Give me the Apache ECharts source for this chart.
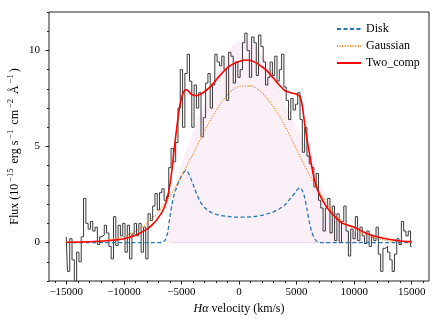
<!DOCTYPE html>
<html>
<head>
<meta charset="utf-8">
<script src="https://cdn.jsdelivr.net/npm/echarts@6/dist/echarts.min.js"></script>
<style>
  html, body { margin: 0; padding: 0; background: #fff; }
  #main { width: 442px; height: 325px; }
</style>
</head>
<body>
<div id="main"></div>
<script>
// observed spectrum, steps of 200 km/s  [velocity, flux]
var fluxData = [
  [-15000,0.3],[-14800,-1.5],[-14600,0.2],[-14400,-0.9],[-14200,-2.1],[-14000,-0.5],[-13800,-1.0],[-13600,0.3],
  [-13400,2.3],[-13200,1.0],[-13000,0.7],[-12800,1.1],[-12600,0.6],[-12400,0.8],[-12200,-0.1],[-12000,0.3],
  [-11800,0.4],[-11600,0.9],[-11400,0.5],[-11200,-0.2],[-11000,-0.85],[-10800,1.35],[-10600,-0.15],[-10400,0.9],
  [-10200,0.35],[-10000,1.0],[-9800,-0.5],[-9600,0.9],[-9400,-0.85],[-9200,0.45],[-9000,1.0],[-8800,0.35],
  [-8600,1.0],[-8400,-0.5],[-8200,0.8],[-8000,-0.85],[-7800,1.5],[-7600,1.15],[-7400,1.9],[-7200,2.55],
  [-7000,1.7],[-6800,2.6],[-6600,2.8],[-6400,2.2],[-6200,2.4],[-6000,3.9],[-5800,4.9],[-5600,4.2],
  [-5400,5.2],[-5200,7.0],[-5000,9.0],[-4800,6.0],[-4600,8.8],[-4400,9.8],[-4200,8.4],[-4000,6.0],
  [-3800,8.2],[-3600,7.0],[-3400,7.8],[-3200,5.5],[-3000,6.5],[-2800,8.3],[-2600,8.8],[-2400,7.0],
  [-2200,8.2],[-2000,9.8],[-1800,9.4],[-1600,9.2],[-1400,9.7],[-1200,9.0],[-1000,7.4],[-800,9.9],
  [-600,9.7],[-400,8.3],[-200,9.4],[0,8.6],[200,9.0],[400,10.4],[600,10.9],[800,10.0],
  [1000,8.6],[1200,10.7],[1400,10.4],[1600,8.7],[1800,10.8],[2000,10.2],[2200,9.4],[2400,8.2],
  [2600,8.6],[2800,9.4],[3000,8.7],[3200,9.7],[3400,8.4],[3600,9.0],[3800,9.8],[4000,8.1],
  [4200,7.4],[4400,6.4],[4600,7.5],[4800,6.9],[5000,7.2],[5200,7.8],[5400,6.4],[5600,4.7],
  [5800,6.0],[6000,4.5],[6200,4.1],[6400,3.9],[6600,2.9],[6800,3.6],[7000,2.2],[7200,1.8],
  [7400,0.6],[7600,1.8],[7800,2.3],[8000,0.5],[8200,1.9],[8400,0.1],[8600,1.5],[8800,0.0],
  [9000,1.1],[9200,1.9],[9400,0.6],[9600,-0.7],[9800,0.7],[10000,0.2],[10200,1.35],[10400,0.1],
  [10600,0.8],[10800,0.35],[11000,-0.05],[11200,0.6],[11400,-0.2],[11600,0.3],[11800,0.1],[12000,0.8],
  [12200,-0.6],[12400,-1.5],[12600,-0.3],[12800,-0.2],[13000,-0.5],[13200,-0.9],[13400,-1.5],[13600,-0.6],
  [13800,0.2],[14000,-0.1],[14200,1.1],[14400,0.6],[14600,0.35],[14800,0.6],[15000,-0.2]
];

var diskData = [
  [-15000,0],[-7000,0],[-6600,0.02],[-6400,0.15],[-6200,0.5],[-6000,1.35],[-5800,2.05],[-5600,2.55],
  [-5400,2.9],[-5200,3.2],[-5000,3.45],[-4800,3.65],[-4600,3.75],[-4400,3.62],[-4200,3.35],[-4000,3.05],
  [-3800,2.72],[-3600,2.42],[-3400,2.17],[-3200,1.97],[-3000,1.82],[-2500,1.6],[-2000,1.47],[-1500,1.4],
  [-1000,1.36],[-500,1.33],[0,1.32],[500,1.32],[1000,1.34],[1500,1.37],[2000,1.42],[2500,1.5],
  [3000,1.6],[3500,1.75],[4000,1.97],[4400,2.25],[4800,2.55],[5100,2.78],[5300,2.85],[5500,2.7],
  [5700,2.35],[5900,1.75],[6100,1.1],[6300,0.6],[6500,0.28],[6700,0.1],[6900,0.03],[7200,0],[15000,0]
];

var gaussData = [
  [-15000,0.01],[-14000,0.02],[-13000,0.04],[-12000,0.09],[-11000,0.18],[-10000,0.34],[-9000,0.6],[-8000,1.0],
  [-7000,1.6],[-6000,2.42],[-5000,3.45],[-4000,4.6],[-3000,5.8],[-2000,6.85],[-1000,7.7],[0,8.12],
  [1000,8.15],[2000,7.8],[3000,7.05],[4000,6.05],[5000,4.85],[6000,3.65],[7000,2.6],[8000,1.75],
  [9000,1.1],[10000,0.67],[11000,0.38],[12000,0.2],[13000,0.1],[14000,0.05],[15000,0.02]
];

var twoCompData = [
  [-15000,0.02],[-13000,0.04],[-12000,0.07],[-11000,0.12],[-10000,0.2],[-9000,0.38],[-8000,0.7],[-7500,0.95],
  [-7000,1.3],[-6500,1.8],[-6200,2.4],[-6000,3.0],[-5800,3.9],[-5600,5.0],[-5400,6.0],[-5200,6.9],
  [-5000,7.5],[-4800,7.85],[-4600,7.95],[-4400,7.9],[-4200,7.75],[-4000,7.68],[-3700,7.65],[-3400,7.7],
  [-3000,7.85],[-2500,8.1],[-2000,8.45],[-1500,8.8],[-1000,9.1],[-500,9.3],[0,9.42],[500,9.5],
  [1000,9.48],[1500,9.35],[2000,9.15],[2500,8.9],[3000,8.55],[3500,8.2],[4000,7.9],[4500,7.8],
  [5000,7.72],[5300,7.6],[5500,7.1],[5700,6.2],[5900,5.4],[6100,4.7],[6300,4.0],[6500,3.4],
  [6700,2.95],[7000,2.5],[7500,1.95],[8000,1.55],[8500,1.25],[9000,1.0],[10000,0.8],[11000,0.5],
  [12000,0.3],[13000,0.17],[14000,0.08],[15000,0.05]
];

// light shaded region
var shadeData = [
  [-6400,0],[-6200,0.6],[-6000,1.5],[-5600,2.8],[-5000,4.1],[-4000,5.7],[-3000,7.2],[-2000,8.7],
  [-1000,9.9],[0,10.5],[700,10.5],[1500,10.1],[2700,9.2],[3500,8.0],[4200,6.9],[5300,5.7],
  [6200,4.7],[6800,3.6],[7400,2.6],[8000,1.9],[9000,1.1],[10000,0.6],[11000,0.25],[12000,0]
];
var shadeBase = [[-6000,0],[10500,0]];

var xTicks = [-15000, -10000, -5000, 0, 5000, 10000, 15000];
var xMinor = [-16000,-14000,-13000,-12000,-11000,-9000,-8000,-7000,-6000,-4000,-3000,-2000,-1000,
  1000,2000,3000,4000,6000,7000,8000,9000,11000,12000,13000,14000,16000];
var yTicks = [0, 5, 10];
var yMinor = [-2,-1,1,2,3,4,6,7,8,9,11,12];

var serif = '"Liberation Serif", "DejaVu Serif", serif';

var myChart = echarts.init(document.getElementById('main'));
var option = {
    backgroundColor: '#fff',
    animation: false,
    textStyle: { fontFamily: serif },
    grid: {
      left: 49, right: 13, top: 12, bottom: 44,
      outerBoundsMode: 'none',
      show: true,
      borderColor: '#222',
      borderWidth: 1,
      backgroundColor: 'transparent'
    },
    legend: {
      orient: 'vertical',
      left: 331,
      top: 18,
      itemWidth: 24,
      itemHeight: 10,
      itemGap: 5,
      itemStyle: { opacity: 0 },
      textStyle: { fontFamily: serif, fontSize: 12, color: '#000' },
      data: ['Disk', 'Gaussian', 'Two_comp']
    },
    xAxis: [{
      type: 'value',
      min: -16500,
      max: 16500,
      name: '{it|Hα} velocity (km/s)',
      nameLocation: 'middle',
      nameGap: 16,
      nameTextStyle: {
        fontFamily: serif, fontSize: 12, color: '#000',
        rich: { it: { fontFamily: serif, fontSize: 12, fontStyle: 'italic', color: '#000' } }
      },
      axisLine: { show: false, onZero: false },
      axisTick: { show: true, customValues: xTicks, length: 3.5, lineStyle: { color: '#222' } },
      axisLabel: {
        customValues: xTicks, fontFamily: serif, fontSize: 11, color: '#000', margin: 6,
        formatter: function (v) { return String(v).replace('-', '\u2212'); }
      },
      splitLine: { show: false }
    }, {
      type: 'value',
      min: -16500,
      max: 16500,
      position: 'bottom',
      axisLine: { show: false, onZero: false },
      axisTick: { show: true, customValues: xMinor, length: 2, lineStyle: { color: '#222' } },
      axisLabel: { show: false },
      splitLine: { show: false }
    }],
    yAxis: [{
      type: 'value',
      min: -2,
      max: 12,
      name: 'Flux (10{sup|\u221215} erg s{sup|\u22121} cm{sup|\u22122} Å{sup|\u22121})',
      nameLocation: 'middle',
      nameRotate: 90,
      nameGap: 25,
      nameMoveOverlap: false,
      nameTextStyle: {
        fontFamily: serif, fontSize: 12, color: '#000', lineHeight: 18, verticalAlign: 'bottom',
        rich: {
          sup: { fontFamily: serif, fontSize: 8.5, color: '#000', verticalAlign: 'top', padding: [0, 2, 0, 2] }
        }
      },
      axisLine: { show: false, onZero: false },
      axisTick: { show: true, customValues: yTicks, length: 3.5, lineStyle: { color: '#222' } },
      axisLabel: { customValues: yTicks, fontFamily: serif, fontSize: 11, color: '#000', margin: 9 },
      splitLine: { show: false }
    }, {
      type: 'value',
      min: -2,
      max: 12,
      position: 'left',
      axisLine: { show: false, onZero: false },
      axisTick: { show: true, customValues: yMinor, length: 2, lineStyle: { color: '#222' } },
      axisLabel: { show: false },
      splitLine: { show: false }
    }],
    series: [
      {
        name: 'shade',
        type: 'line',
        data: shadeData,
        smooth: 0.3,
        symbol: 'none',
        silent: true,
        lineStyle: { width: 0 },
        areaStyle: { color: 'rgba(236,160,212,0.22)' },
        z: 1
      },
      {
        name: 'shadeBase',
        type: 'line',
        data: shadeBase,
        symbol: 'none',
        silent: true,
        lineStyle: { width: 1, color: 'rgba(236,160,212,0.45)' },
        z: 1
      },
      {
        name: 'data',
        type: 'line',
        data: fluxData,
        step: 'middle',
        symbol: 'none',
        lineStyle: { width: 1, color: '#3a3a3a' },
        z: 2
      },
      {
        name: 'Disk',
        type: 'line',
        data: diskData,
        smooth: 0.3,
        symbol: 'none',
        itemStyle: { color: '#1f77b4' },
        lineStyle: { width: 1.3, color: '#1f77b4', type: [4, 2.5] },
        z: 3
      },
      {
        name: 'Gaussian',
        type: 'line',
        data: gaussData,
        smooth: 0.3,
        symbol: 'none',
        itemStyle: { color: '#ff7f0e' },
        lineStyle: { width: 1.3, color: '#ff7f0e', type: [1, 1.6] },
        z: 4
      },
      {
        name: 'Two_comp',
        type: 'line',
        data: twoCompData,
        smooth: 0.3,
        symbol: 'none',
        itemStyle: { color: '#ff0000' },
        lineStyle: { width: 1.6, color: '#ff0000' },
        z: 5
      }
    ]
};
myChart.setOption(option);
</script>
</body>
</html>
